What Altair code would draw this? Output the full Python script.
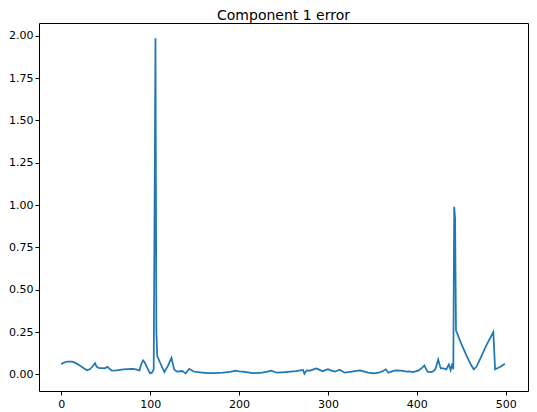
import altair as alt
import pandas as pd

title_text = "Component 1 error"

# sample index (x) and error value (y)
xs = [0, 3, 7, 12, 16, 20, 25, 29, 32, 35, 38, 40, 42, 49, 52, 55, 57, 62, 70, 80, 84, 88,
      90, 92, 94, 97, 100, 102, 104, 106, 107, 108, 112, 116, 120, 124, 127, 130, 136, 140,
      144, 149, 156, 164, 172, 182, 190, 196, 200, 204, 210, 215, 222, 226, 232, 236, 240,
      243, 248, 252, 258, 264, 269, 272, 273.5, 276, 280, 283, 287, 290, 294, 297, 300, 304,
      308, 313, 316, 319, 325, 330, 336, 340, 345, 352, 357, 362, 365, 368, 372, 376, 382,
      389, 391, 396, 402, 406, 408.5, 410, 412, 416, 419, 421, 424, 426, 427, 430, 433, 436,
      438, 440, 441, 442, 443, 444, 450, 456, 461, 464, 467, 472, 478, 483, 486, 488, 490,
      494, 499]
ys = [0.06, 0.07, 0.076, 0.075, 0.068, 0.055, 0.038, 0.024, 0.03, 0.045, 0.066, 0.045,
      0.038, 0.036, 0.045, 0.03, 0.022, 0.024, 0.03, 0.033, 0.03, 0.024,
      0.06, 0.083, 0.07, 0.035, 0.006, 0.01, 0.03, 1.985, 0.25, 0.108, 0.06, 0.014, 0.05,
      0.098, 0.03, 0.016, 0.02, 0.006,
      0.033, 0.017, 0.012, 0.007, 0.008, 0.01, 0.015, 0.022, 0.018, 0.016, 0.012, 0.007,
      0.009, 0.01, 0.016, 0.022, 0.014,
      0.01, 0.012, 0.014, 0.017, 0.02, 0.024, 0.026, 0.004, 0.024, 0.022, 0.028, 0.035,
      0.028, 0.018, 0.025, 0.031, 0.022,
      0.016, 0.028, 0.018, 0.01, 0.015, 0.02, 0.024, 0.018, 0.01, 0.006, 0.01, 0.02, 0.03,
      0.01, 0.018, 0.024, 0.022,
      0.016, 0.018, 0.014, 0.024, 0.04, 0.053, 0.035, 0.016, 0.014, 0.02, 0.033, 0.088,
      0.05, 0.035, 0.035, 0.03, 0.059,
      0.025, 0.065, 0.03, 0.99, 0.92, 0.26, 0.18, 0.11, 0.055, 0.03, 0.045, 0.1, 0.17, 0.22,
      0.25, 0.03, 0.035,
      0.045, 0.063]

x_ticks = [0, 100, 200, 300, 400, 500]
y_ticks = [0.0, 0.25, 0.5, 0.75, 1.0, 1.25, 1.5, 1.75, 2.0]

df = pd.DataFrame({"x": xs, "y": ys})

FONT = "DejaVu Sans"

chart = (
    alt.Chart(df, title=alt.Title(title_text, fontSize=14, font=FONT, fontWeight="normal",
                                  color="black", offset=0))
    .mark_line(color="#1f77b4", strokeWidth=1.75, clip=True)
    .encode(
        x=alt.X("x:Q", scale=alt.Scale(domain=[-25, 525], nice=False, zero=False),
                axis=alt.Axis(values=x_ticks, title=None, grid=False, tickSize=4,
                              labelPadding=3, labelFontSize=11, labelFont=FONT,
                              labelColor="black", tickColor="black", domain=False,
                              labelFlush=False)),
        y=alt.Y("y:Q", scale=alt.Scale(domain=[-0.098, 2.075], nice=False, zero=False),
                axis=alt.Axis(values=y_ticks, format=".2f", title=None, grid=False,
                              tickSize=4, labelPadding=2, labelFontSize=11,
                              labelFont=FONT, labelColor="black", tickColor="black",
                              domain=False, labelFlush=False)),
        order="x:Q",
    )
    .properties(width=489, height=368, autosize=alt.AutoSizeParams(type="none"),
                padding={"left": 31, "top": 15, "right": 1, "bottom": 20})
    .configure_view(stroke="black", strokeWidth=1)
)

chart.save("out.html", embed_options={"renderer": "svg", "actions": False})
